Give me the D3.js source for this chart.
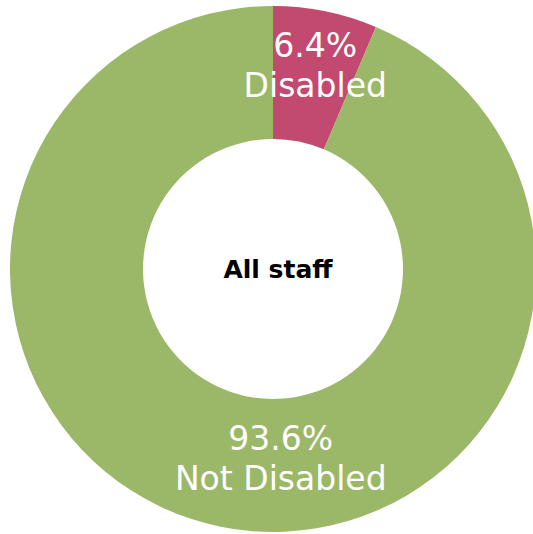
<!DOCTYPE html>
<html>
<head>
<meta charset="utf-8">
<script src="https://cdn.jsdelivr.net/npm/d3@7"></script>
<style>
  html, body { margin: 0; padding: 0; background: #ffffff; }
  svg { display: block; }
</style>
</head>
<body>
<svg id="chart" width="533" height="534"></svg>
<script>
// Staff disability breakdown
const categories = ["Disabled", "Not Disabled"];
const shares = [6.4, 93.6];
const sliceColors = ["#c24a70", "#9bb868"];
const centreTitle = "All staff";

const svg = d3.select("#chart");
const cx = 273, cy = 269;
const outerR = 263, innerR = 130;

const pie = d3.pie().sort(null).value(d => d.value);
const arcs = pie(categories.map((c, i) => ({ name: c, value: shares[i], color: sliceColors[i] })));

const arc = d3.arc().innerRadius(innerR).outerRadius(outerR);

const g = svg.append("g").attr("transform", `translate(${cx},${cy})`);

g.selectAll("path.slice")
  .data(arcs)
  .join("path")
  .attr("class", "slice")
  .attr("d", arc)
  .attr("fill", d => d.data.color);

// label nudges (pixels) relative to each slice centroid
const labelNudge = [[3, -11], [47, -4]];

const labels = g.selectAll("text.lbl")
  .data(arcs)
  .join("text")
  .attr("class", "lbl")
  .attr("text-anchor", "middle")
  .attr("fill", "#ffffff")
  .style("font-family", "'DejaVu Sans', Verdana, sans-serif")
  .style("font-size", "33px")
  .attr("transform", (d, i) => {
    const [x, y] = arc.centroid(d);
    return `translate(${x + labelNudge[i][0]},${y + labelNudge[i][1]})`;
  });

labels.append("tspan")
  .attr("x", 0).attr("y", -8)
  .text(d => d3.format(".1f")(d.data.value) + "%");
labels.append("tspan")
  .attr("x", 0).attr("y", 32)
  .text(d => d.data.name);

g.append("text")
  .attr("x", 5).attr("y", 9)
  .attr("text-anchor", "middle")
  .attr("fill", "#000000")
  .style("font-family", "'DejaVu Sans', Verdana, sans-serif")
  .style("font-weight", "bold")
  .style("font-size", "25px")
  .text(centreTitle);
</script>
</body>
</html>
